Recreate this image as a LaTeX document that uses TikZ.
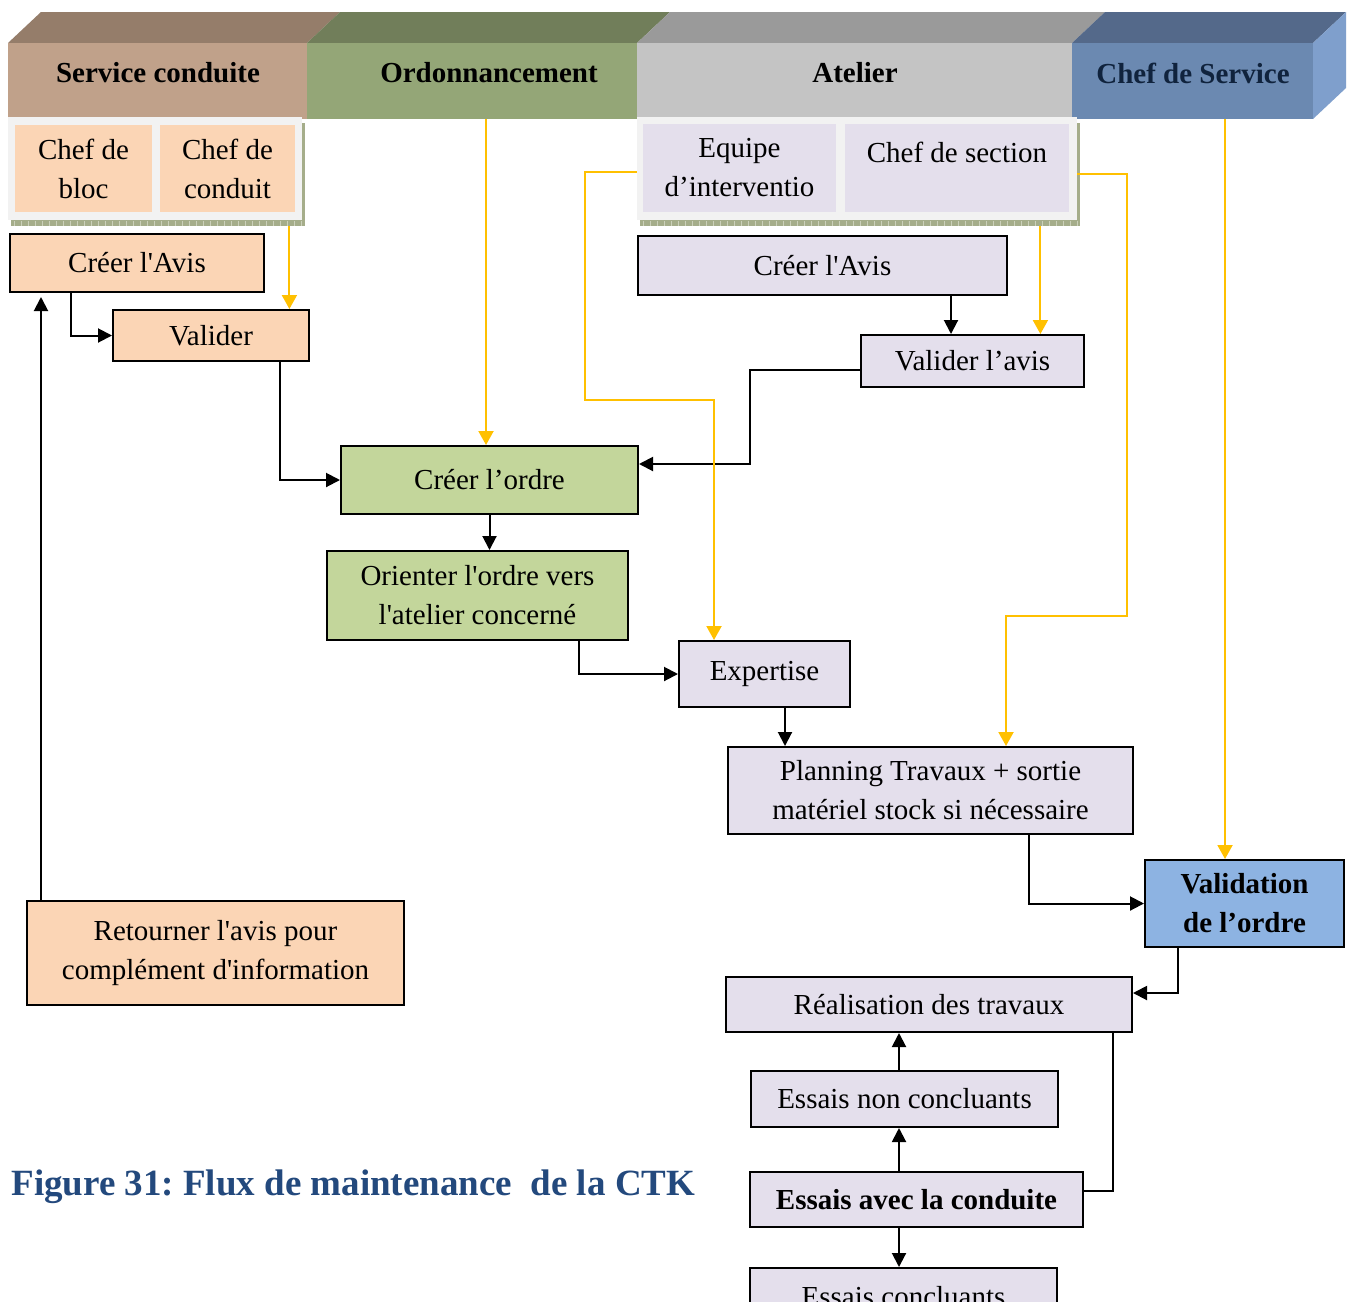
\documentclass[tikz,border=0pt]{standalone}
\usepackage{fontspec}
\setmainfont{Liberation Serif}[Ligatures=TeXOff]
\usetikzlibrary{arrows.meta,fit}

\definecolor{scFront}{HTML}{C0A18A}
\definecolor{scTop}{HTML}{957D6A}
\definecolor{orFront}{HTML}{94A677}
\definecolor{orTop}{HTML}{717E5A}
\definecolor{atFront}{HTML}{C4C4C4}
\definecolor{atTop}{HTML}{9A9A9A}
\definecolor{csFront}{HTML}{6B89B1}
\definecolor{csTop}{HTML}{54698A}
\definecolor{csSide}{HTML}{7F9FCC}
\definecolor{csText}{HTML}{10233D}
\definecolor{peach}{HTML}{FBD5B5}
\definecolor{lav}{HTML}{E4DFEC}
\definecolor{leaf}{HTML}{C3D69B}
\definecolor{sky}{HTML}{8DB3E2}
\definecolor{amber}{HTML}{FFC000}
\definecolor{frameGray}{HTML}{F2F2F2}
\definecolor{shadowGreen}{HTML}{A5AD8A}
\definecolor{shadowTick}{HTML}{CBD0BA}
\definecolor{capBlue}{HTML}{23497D}

\newcommand\bodysize{\fontsize{14.5}{19.5}\selectfont}
\newcommand\capsize{\fontsize{18.5}{22}\selectfont\bfseries}

\tikzset{
  sz/.style 2 args={minimum width=#1pt, minimum height=#2pt},
  front/.style={inner sep=0pt, draw=none},
  hdrtxt/.style={inner sep=0pt, font=\bodysize\bfseries},
  grp/.style={fill=frameGray, inner sep=0pt, draw=none},
  subbox/.style={inner sep=0pt, draw=none, align=center, font=\bodysize},
  txt/.style={inner sep=0pt, align=center, font=\bodysize},
  box/.style={draw=black, line width=1pt, inner sep=0pt, align=center, font=\bodysize},
  conn/.style={draw=black, line width=1pt, -{Triangle[length=7pt,width=7pt]}},
  plain/.style={draw=black, line width=1pt},
  yconn/.style={draw=amber, line width=1pt, -{Triangle[length=7pt,width=7.5pt,fill=amber]}},
}

\begin{document}
\frenchspacing
\begin{tikzpicture}[x=0.5pt,y=-0.5pt]
\clip (0,0) rectangle (1353,1301);
\fill[white] (0,0) rectangle (1353,1301);

% --- swimlane header: top faces and side face
\fill[scTop] (8,43) -- (41,12) -- (340,12) -- (307,43) -- cycle;
\fill[orTop] (307,43) -- (340,12) -- (670,12) -- (637,43) -- cycle;
\fill[atTop] (637,43) -- (670,12) -- (1105,12) -- (1072,43) -- cycle;
\fill[csTop] (1072,43) -- (1105,12) -- (1346,12) -- (1313,43) -- cycle;
\fill[csSide] (1313,43) -- (1346,12) -- (1346,88) -- (1313,119) -- cycle;

% --- swimlane header: front faces
\node[front, fill=scFront, fit={(8,43) (307,119)}] (hSC) {};
\node[front, fill=orFront, fit={(307,43) (637,119)}] (hOrd) {};
\node[front, fill=atFront, fit={(637,43) (1072,119)}] (hAt) {};
\node[front, fill=csFront, fit={(1072,43) (1313,119)}] (hCS) {};
\node[hdrtxt] (tSC) at (158,73) {Service conduite};
\node[hdrtxt] (tOrd) at (489,73) {Ordonnancement};
\node[hdrtxt] (tAt) at (855,73) {Atelier};
\node[hdrtxt, text=csText] (tCS) at (1193,73) {Chef de Service};

% --- role panels with their ruled shadow
\fill[shadowGreen] (11,123) rectangle (305,226);
\foreach \x in {14,21,...,302} \draw[shadowTick, line width=0.4pt] (\x,221) -- (\x,226);
\fill[shadowGreen] (640,123) rectangle (1080,226);
\foreach \x in {643,650,...,1078} \draw[shadowTick, line width=0.4pt] (\x,221) -- (\x,226);

\node[grp, fit={(8,117) (302,220)}] (grpL) {};
\node[subbox, fill=peach, sz={68.5}{43.5}] (cBloc) at (83.5,168.5) {Chef de\\bloc};
\node[subbox, fill=peach, sz={67.5}{43.5}] (cCond) at (227.5,168.5) {Chef de\\conduit};

\node[grp, fit={(637,117) (1077,220)}] (grpR) {};
\node[subbox, fill=lav, sz={96.5}{44}] (cEq) at (739.5,168) {Equipe\\d’interventio};
\node[subbox, fill=lav, sz={112}{44}] (cSec) at (957,168) {};
\node[txt] (tSec) at (957,152) {Chef de section};

% --- process steps
\node[box, fill=peach, sz={127}{29}] (avisL) at (137,263) {Créer l'Avis};
\node[box, fill=peach, sz={98}{25.5}] (valider) at (211,335.5) {Valider};
\node[box, fill=leaf, sz={148.5}{34}] (ordre) at (489.5,480) {Créer l’ordre};
\node[box, fill=leaf, sz={150.5}{44.5}] (orient) at (477.5,595.5) {Orienter l'ordre vers\\l'atelier concerné};
\node[box, fill=lav, sz={184.5}{29.5}] (avisR) at (822.5,265.5) {Créer l'Avis};
\node[box, fill=lav, sz={111.5}{26}] (vavis) at (972.5,361) {Valider l’avis};
\node[box, fill=lav, sz={85.5}{33}] (exp) at (764.5,674) {Expertise};
\node[box, fill=lav, sz={202.5}{43.5}] (plan) at (930.5,790.5) {Planning Travaux + sortie\\matériel stock si nécessaire};
\node[box, fill=sky, font=\bodysize\bfseries, sz={99.5}{43.5}] (valid) at (1244.5,903.5) {Validation\\de l’ordre};
\node[box, fill=lav, sz={203}{27.5}] (real) at (929,1004.5) {Réalisation des travaux};
\node[box, fill=lav, sz={153.5}{28}] (enon) at (904.5,1099) {Essais non concluants};
\node[box, fill=lav, font=\bodysize\bfseries, sz={166.5}{27.5}] (eavec) at (916.5,1199.5) {Essais avec la conduite};
\node[box, fill=lav, sz={153.5}{28.5}] (econ) at (903.5,1296.5) {Essais concluants};
\node[box, fill=peach, sz={188.5}{52}] (ret) at (215.5,953) {Retourner l'avis pour\\complément d'information};

% --- caption
\node[anchor=base west, inner sep=0pt, font=\capsize, text=capBlue] (cap) at (11,1195)
  {Figure 31: Flux de maintenance\ \ de la CTK};

% --- black flow connectors
\coordinate (a1) at ([xshift=31pt]avisL.south west);
\draw[conn] (a1) |- (valider.west);
\coordinate (a2) at ([xshift=84pt]valider.south west);
\draw[conn] (a2) |- (ordre.west);
\draw[conn] (ordre.south) -- (ordre.south |- orient.north);
\coordinate (a4) at ([xshift=126.5pt]orient.south west);
\draw[conn] (a4) |- (exp.west);
\coordinate (a5) at ([xshift=53.5pt]exp.south west);
\draw[conn] (a5) -- (a5 |- plan.north);
\coordinate (a6) at ([xshift=151pt]plan.south west);
\draw[conn] (a6) |- (valid.west);
\coordinate (a7) at ([xshift=17pt]valid.south west);
\draw[conn] (a7) |- ([yshift=-8.5pt]real.north east);
\coordinate (a8) at ([xshift=157pt]avisR.south west);
\draw[conn] (a8) -- (a8 |- vavis.north);
\draw[conn] ([yshift=-4.5pt]vavis.west) -- ++(-110,0) |- ([yshift=8pt]ordre.east);
\coordinate (r1) at ([xshift=7.5pt]ret.north west);
\draw[conn, shorten >=2pt] (r1) -- (r1 |- avisL.south);
\coordinate (e1) at ([xshift=74.5pt]enon.north west);
\draw[conn] (e1) -- (e1 |- real.south);
\coordinate (e2) at ([xshift=75pt]eavec.north west);
\draw[conn] (e2) -- (e2 |- enon.south);
\coordinate (e3) at ([xshift=75pt]eavec.south west);
\draw[conn] (e3) -- (e3 |- econ.north);
\draw[plain] ([yshift=4.5pt]eavec.east) -| ([xshift=-10pt]real.south east);

% --- responsibility connectors
\coordinate (y1) at ([xshift=-6.5pt,yshift=-3pt]grpL.south east);
\draw[yconn] (y1) -- (y1 |- valider.north);
\coordinate (y2) at ([xshift=7pt]hOrd.south);
\draw[yconn] (y2) -- (y2 |- ordre.north);
\coordinate (y3) at ([xshift=18pt]exp.north west);
\draw[yconn] ([yshift=-1.5pt]grpR.west) -- ++(-52,0) -- ++(0,228) -| (y3);
\coordinate (y4) at ([xshift=-18.5pt,yshift=-3pt]grpR.south east);
\draw[yconn] (y4) -- (y4 |- vavis.north);
\coordinate (y5) at ([xshift=139.5pt]plan.north west);
\draw[yconn] ([yshift=-2.5pt]grpR.east) -- ++(50,0) -- ++(0,442) -| (y5);
\coordinate (y6) at ([xshift=16.25pt]hCS.south);
\draw[yconn] (y6) -- (y6 |- valid.north);
\end{tikzpicture}
\end{document}
